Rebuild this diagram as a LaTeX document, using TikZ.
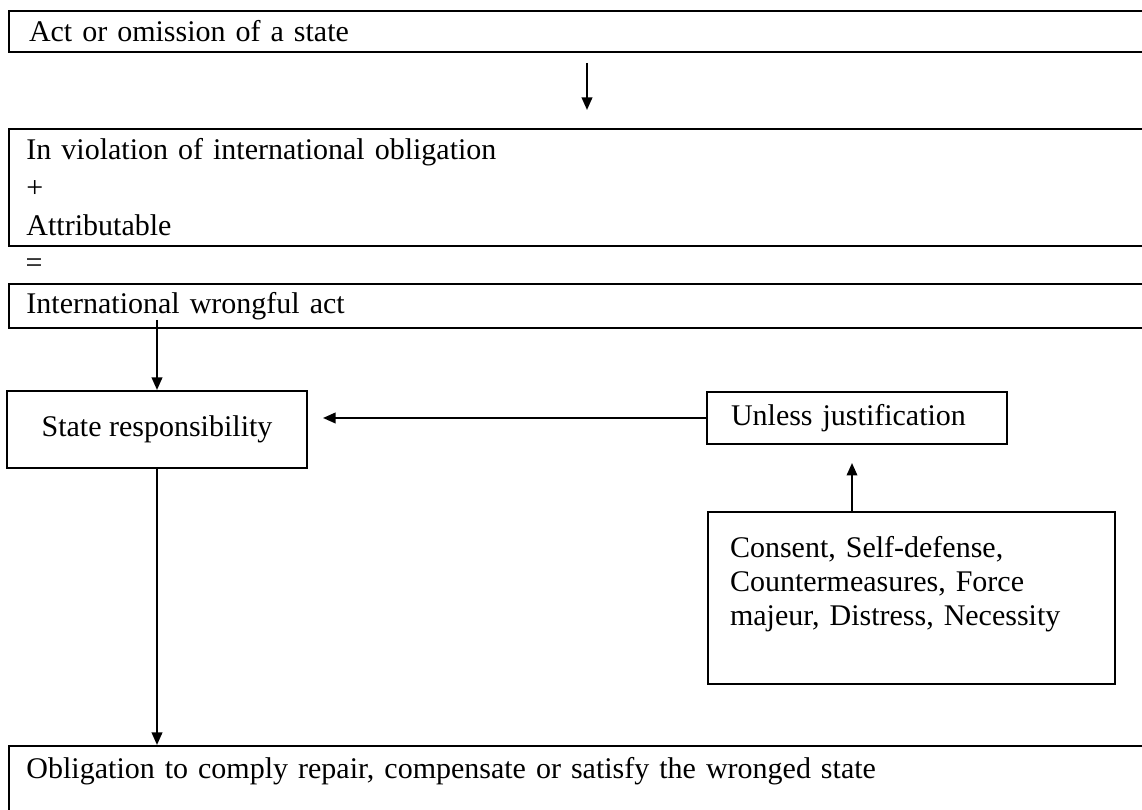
\documentclass[tikz,border=0pt]{standalone}
\usepackage{fontspec}
\setmainfont{Liberation Serif}
\usepackage{tikz}
\usetikzlibrary{arrows.meta,positioning}
\tikzstyle{arrow} = [line width=0.8pt,-{Triangle[length=5pt,width=4.2pt]}]
\tikzstyle{wide} = [draw, line width=0.8pt, anchor=north west, text width=446.8pt, inner xsep=7pt, inner ysep=0pt, align=left]
\tikzstyle{box} = [draw, line width=0.8pt, anchor=north west, inner ysep=0pt]

\begin{document}
\begin{tikzpicture}[x=0.4pt, y=-0.4pt, font=\fontsize{12}{13.6}\selectfont]
\useasboundingbox (0,0) rectangle (1142,810);

% Chain of boxes
\node[wide, minimum height=16.4pt, inner xsep=8pt, text width=444.8pt] (act) at (8,10) {Act or omission of a state};
\node[wide, minimum height=46.8pt, font=\fontsize{12}{15.2}\selectfont] (viol) at (8,128) {In violation of international obligation\\+\\Attributable};
\node[anchor=base west, inner sep=0pt] (eq) at (25,273) {=};
\node[wide, minimum height=17.6pt] (wrong) at (8,283) {International wrongful act};

% Responsibility and justification
\node[box, minimum width=120pt, minimum height=30.8pt] (resp) at (6,390) {State responsibility};
\node[box, minimum height=20.8pt, text width=100.8pt, inner xsep=9.6pt, align=left] (unless) at (706,391) {Unless justification};
\node[box, minimum height=68.8pt, text width=145.2pt, inner xsep=8.8pt, align=left] (excuse) at (707,511) {Consent, Self-defense,\\Countermeasures, Force\\majeur, Distress, Necessity\\\mbox{}};

% Consequence
\node[wide, text height=8.4pt, text depth=20pt, inner ysep=4.8pt] (oblig) at (8,745) {Obligation to comply repair, compensate or satisfy the wronged state};

% Arrows
\coordinate (top1) at (587,63);
\coordinate (top2) at (587,110);
\draw[arrow] (top1) -- (top2);
\draw[arrow] ([yshift=3.6pt]wrong.south -| resp.north) -- (resp.north);
\draw[arrow] (unless.west) -- ([xshift=6pt]resp.east |- unless.west);
\draw[arrow] ([xshift=58pt]excuse.north west) -- +(0,-48);
\draw[arrow] (resp.south) -- (resp.south |- oblig.north);
\end{tikzpicture}
\end{document}
